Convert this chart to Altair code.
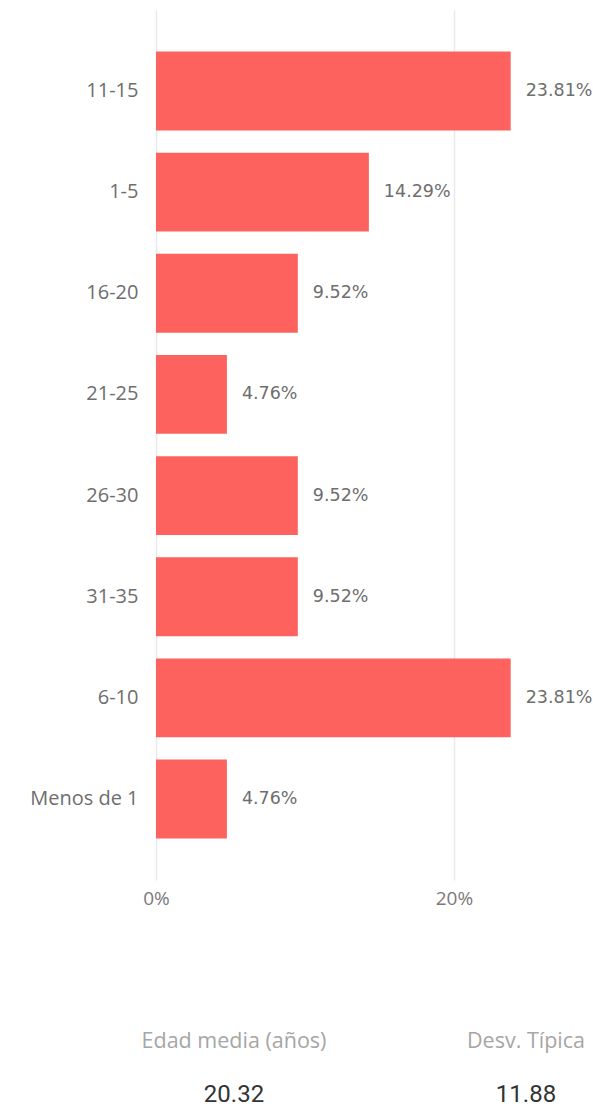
import altair as alt
import pandas as pd

categories = ["11-15", "1-5", "16-20", "21-25", "26-30", "31-35", "6-10", "Menos de 1"]
shares = [0.2381, 0.1429, 0.0952, 0.0476, 0.0952, 0.0952, 0.2381, 0.0476]
tick_values = [0, 0.2]

card_labels = ["Edad media (años)", "Desv. Típica"]
card_values = ["20.32", "11.88"]

df = pd.DataFrame({"cat": categories, "share": shares})
df["label"] = [f"{v*100:.2f}%" for v in shares]

BAR = "#FD625E"

x = alt.X("share:Q",
          scale=alt.Scale(domain=[0, 0.29], nice=False),
          axis=alt.Axis(values=tick_values, format=".0%", title=None,
                        domain=False, ticks=False, grid=True,
                        gridColor="#e9e9e9", gridWidth=1.5,
                        labelFlush=False,
                        labelFont="Open Sans", labelFontSize=19,
                        labelColor="#7a7a7a", labelPadding=9))
y = alt.Y("cat:N", sort=categories,
          scale=alt.Scale(paddingInner=0.22, paddingOuter=0.41),
          axis=alt.Axis(title=None, domain=False, ticks=False,
                        labelFont="Open Sans", labelFontSize=20,
                        labelColor="#6e6e6e", labelPadding=18))

bars = alt.Chart(df).mark_bar(color=BAR).encode(x=x, y=y)
texts = alt.Chart(df).mark_text(align="left", baseline="middle", dx=15,
                                font="DejaVu Sans", fontSize=17.5,
                                color="#6e6e6e").encode(
    x="share:Q", y=alt.Y("cat:N", sort=categories), text="label:N")

cards = pd.DataFrame({"lab": card_labels, "val": card_values,
                      "px": [78, 370]})
card_lab = alt.Chart(cards).mark_text(align="center", baseline="middle",
                                      font="Open Sans", fontSize=21.5,
                                      color="#a6a6a6").encode(
    x=alt.X("px:Q", scale=None), y=alt.value(1032), text="lab:N")
card_val = alt.Chart(cards).mark_text(align="center", baseline="middle",
                                      font="Roboto", fontSize=24,
                                      color="#333333").encode(
    x=alt.X("px:Q", scale=None), y=alt.value(1085), text="val:N")

chart = alt.layer(bars, texts, card_lab, card_val).properties(
    width=432, height=870,
    padding={"left": 156, "top": 10, "right": 5, "bottom": 228},
    autosize=alt.AutoSizeParams(type="none"),
    background="white",
).configure_view(strokeWidth=0, stroke="transparent")

chart.save("out.html", embed_options={"renderer": "svg", "actions": False})
